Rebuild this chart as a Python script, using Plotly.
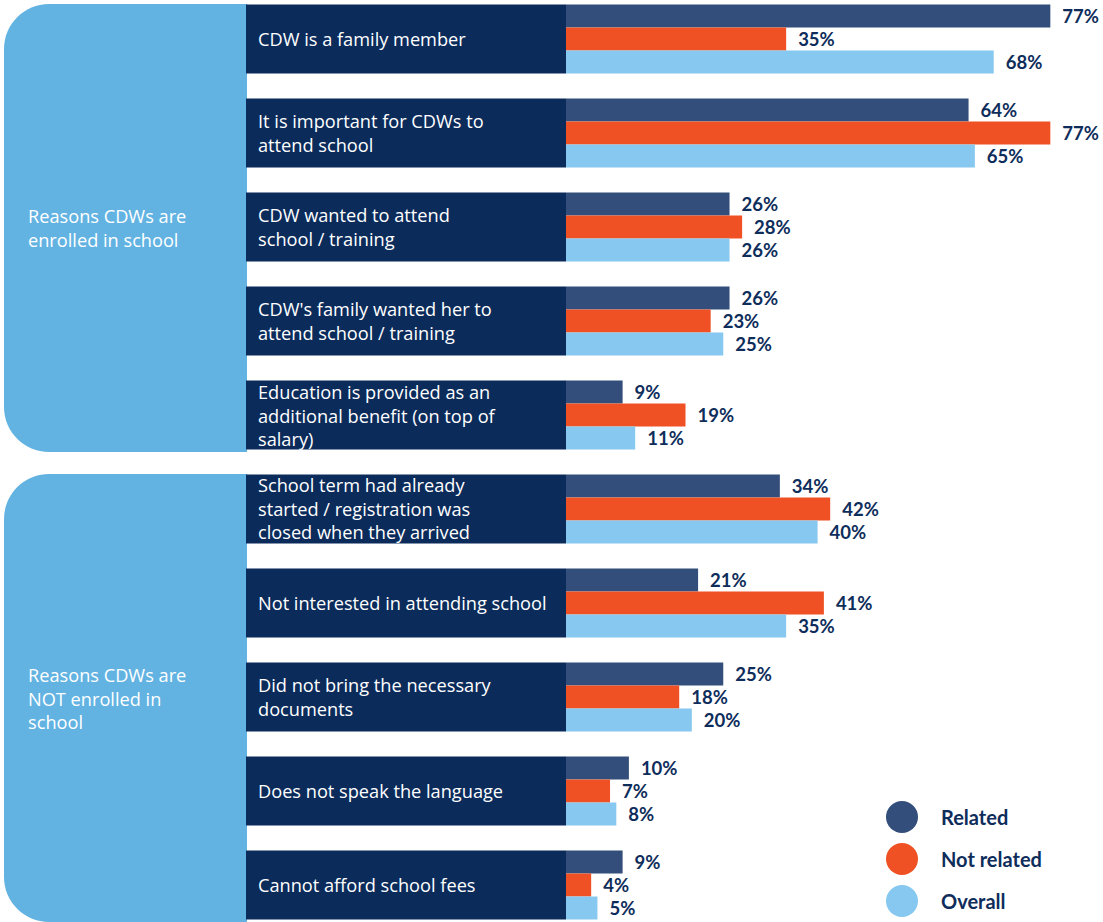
import plotly.graph_objects as go

W, H = 1103, 922

categories = [
    "CDW is a family member",
    "It is important for CDWs to<br>attend school",
    "CDW wanted to attend<br>school / training",
    "CDW's family wanted her to<br>attend school / training",
    "Education is provided as an<br>additional benefit (on top of<br>salary)",
    "School term had already<br>started / registration was<br>closed when they arrived",
    "Not interested in attending school",
    "Did not bring the necessary<br>documents",
    "Does not speak the language",
    "Cannot afford school fees",
]
group_labels = ["Reasons CDWs are<br>enrolled in school",
                "Reasons CDWs are<br>NOT enrolled in<br>school"]
group_rows = [(0, 4), (5, 9)]

series_names = ["Related", "Not related", "Overall"]
related = [77, 64, 26, 26, 9, 34, 21, 25, 10, 9]
not_related = [35, 77, 28, 23, 19, 42, 41, 18, 7, 4]
overall = [68, 65, 26, 25, 11, 40, 35, 20, 8, 5]
series_values = [related, not_related, overall]

colors = ["#334E7B", "#F05124", "#86C8EF"]
NAVY = "#0B2B5B"
PANEL = "#62B3E2"
TEXT = "#0E2D5B"
FONT = "Lato"
LABEL_FONT = "Open Sans"
LABEL_SIZE = 18.2

rows = list(range(len(categories)))

# layout geometry (pixels)
X0 = 566            # zero of the value axis
PX_PER_PCT = 6.29
ROW0 = 39           # centre of first row (px)
PITCH = 94
BOX_L = 246
BAND = 69 / PITCH


def px(x):
    return x / W


def py(y):
    return 1 - y / H


fig = go.Figure()
for name, vals, col in zip(series_names, series_values, colors):
    fig.add_trace(go.Bar(
        y=rows, x=vals, orientation="h", name=name,
        marker=dict(color=col, line=dict(width=0)),
        texttemplate="\u00a0\u00a0%{x}%", textposition="outside",
        textfont=dict(family=FONT, size=18.5, color=TEXT, weight="bold"),
        constraintext="none", cliponaxis=False, showlegend=False,
        hoverinfo="skip",
    ))

x_max = (W - X0) / PX_PER_PCT
y_top = (0 - ROW0) / PITCH
y_bot = (H - ROW0) / PITCH

shapes = []
annotations = []


def rounded_left(x0, y0, x1, y1, r):
    k = 0.552 * r
    pts = [
        ("M", [(x1, y0)]),
        ("L", [(x0 + r, y0)]),
        ("C", [(x0 + r - k, y0), (x0, y0 + r - k), (x0, y0 + r)]),
        ("L", [(x0, y1 - r)]),
        ("C", [(x0, y1 - r + k), (x0 + r - k, y1), (x0 + r, y1)]),
        ("L", [(x1, y1)]),
    ]
    s = ""
    for cmd, cs in pts:
        s += cmd + " " + " ".join(f"{px(a):.5f},{py(b):.5f}" for a, b in cs) + " "
    return s + "Z"


def add_label(text, x, cy):
    annotations.append(dict(xref="paper", yref="paper", x=px(x), y=py(cy),
                            text=text, showarrow=False, xanchor="left",
                            yanchor="middle", align="left",
                            font=dict(family=LABEL_FONT, size=LABEL_SIZE,
                                      color="white")))


for (a, b), lbl in zip(group_rows, group_labels):
    top = ROW0 + PITCH * a - 35
    bot = ROW0 + PITCH * b + 37
    shapes.append(dict(type="path", xref="paper", yref="paper",
                       path=rounded_left(4, top, BOX_L + 1, bot, 45),
                       fillcolor=PANEL, line=dict(width=0), layer="below"))
    add_label(lbl, 26, (top + bot) / 2)

for i, cat in enumerate(categories):
    cy = ROW0 + PITCH * i
    shapes.append(dict(type="rect", xref="paper", yref="paper",
                       x0=px(BOX_L), x1=px(X0),
                       y0=py(cy - 34.5), y1=py(cy + 34.5),
                       fillcolor=NAVY, line=dict(width=0), layer="below"))
    add_label(cat, 256, cy)

# legend
for j, (name, col) in enumerate(zip(series_names, colors)):
    cy = 817 + 42 * j
    shapes.append(dict(type="circle", xref="paper", yref="paper",
                       x0=px(886), x1=px(918), y0=py(cy + 16), y1=py(cy - 16),
                       fillcolor=col, line=dict(width=0)))
    annotations.append(dict(xref="paper", yref="paper", x=px(939), y=py(cy),
                            text=name, showarrow=False, xanchor="left",
                            yanchor="middle",
                            font=dict(family=FONT, size=20, color=TEXT,
                                      weight="bold")))

fig.update_layout(
    width=W, height=H, margin=dict(l=0, r=0, t=0, b=0),
    paper_bgcolor="white", plot_bgcolor="rgba(0,0,0,0)",
    barmode="group", bargap=1 - BAND, bargroupgap=0,
    xaxis=dict(domain=[X0 / W, 1], range=[0, x_max], visible=False,
               fixedrange=True),
    yaxis=dict(domain=[0, 1], range=[y_bot, y_top], visible=False,
               fixedrange=True),
    shapes=shapes, annotations=annotations,
    font=dict(family=FONT),
)

fig.write_html("out.html")
